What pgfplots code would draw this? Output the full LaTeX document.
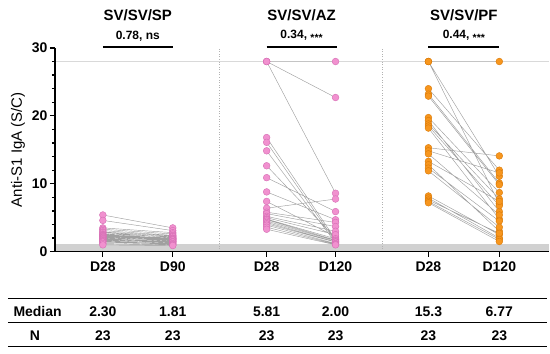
\documentclass[border=0pt]{standalone}
\usepackage{fontspec}
\setmainfont{Liberation Sans}
\usepackage{pgfplots}
\pgfplotsset{compat=1.18}
\definecolor{pinkf}{HTML}{F191CF}
\definecolor{pinke}{HTML}{D66DB4}
\definecolor{orgf}{HTML}{F7961E}
\definecolor{orge}{HTML}{DA7A08}
\definecolor{linec}{HTML}{A0A0A0}
\newcommand{\fs}[1]{\fontsize{#1}{#1}\selectfont}
\newcommand{\stars}{\raisebox{-0.4ex}{\fs{10.5}***}}
\begin{document}
\begin{tikzpicture}[x=1pt,y=1pt]
\path (0,0) rectangle (550,354);
\begin{axis}[
  at={(55pt,102pt)}, anchor=south west,
  scale only axis, width=495pt, height=204pt,
  xmin=55, xmax=550, ymin=0, ymax=30,
  axis x line*=bottom, axis y line*=left,
  axis line style={line width=1.5pt},
  axis on top,
  clip=false,
  xtick={103,173,267,336,429,500},
  xticklabels={D28,D90,D28,D120,D28,D120},
  ytick={0,10,20,30},
  minor y tick num=4,
  tick align=outside,
  major tick length=5pt, minor tick length=3pt,
  every tick/.style={black, line width=1.2pt},
  tick label style={font=\fs{14}\bfseries},
  /pgf/number format/assume math mode=true,
  xticklabel style={yshift=-2pt},
  yticklabel style={xshift=1pt},
  unbounded coords=jump,
]
\fill[black!18] (axis cs:55,0) rectangle (axis cs:550,1.1);
\draw[black!15, line width=0.8pt] (axis cs:55,28) -- (axis cs:550,28);
\draw[black!30, dotted, line width=0.6pt] (axis cs:220,0) -- (axis cs:220,30);
\draw[black!30, dotted, line width=0.6pt] (axis cs:383,0) -- (axis cs:383,30);
% connecting lines group 1
\addplot[linec, line width=0.45pt, no marks] coordinates {
(103,5.4)(173,3.5)(103,nan)
(103,4.6)(173,3.1)(103,nan)
(103,3.5)(173,2.8)(103,nan)
(103,3.3)(173,2.6)(103,nan)
(103,3.1)(173,2.4)(103,nan)
(103,2.9)(173,2.3)(103,nan)
(103,2.8)(173,2.1)(103,nan)
(103,2.6)(173,2.2)(103,nan)
(103,2.5)(173,2.0)(103,nan)
(103,2.4)(173,1.95)(103,nan)
(103,2.35)(173,1.9)(103,nan)
(103,2.3)(173,1.81)(103,nan)
(103,2.2)(173,1.75)(103,nan)
(103,2.1)(173,1.6)(103,nan)
(103,2.0)(173,1.7)(103,nan)
(103,1.9)(173,1.5)(103,nan)
(103,1.8)(173,1.45)(103,nan)
(103,1.7)(173,1.3)(103,nan)
(103,1.6)(173,1.4)(103,nan)
(103,1.5)(173,1.2)(103,nan)
(103,1.4)(173,1.1)(103,nan)
(103,1.2)(173,1.0)(103,nan)
(103,1.0)(173,0.9)
};
% group 2
\addplot[linec, line width=0.45pt, no marks] coordinates {
(267,28)(336,28)(267,nan)
(267,28)(336,22.7)(267,nan)
(267,28)(336,8.6)(267,nan)
(267,16.8)(336,1.8)(267,nan)
(267,16.1)(336,1.5)(267,nan)
(267,14.85)(336,1.3)(267,nan)
(267,12.65)(336,2.0)(267,nan)
(267,10.9)(336,5.9)(267,nan)
(267,8.8)(336,4.7)(267,nan)
(267,7.4)(336,2.2)(267,nan)
(267,6.4)(336,7.75)(267,nan)
(267,5.81)(336,4.3)(267,nan)
(267,5.6)(336,3.7)(267,nan)
(267,5.2)(336,3.0)(267,nan)
(267,5.0)(336,2.5)(267,nan)
(267,4.8)(336,1.9)(267,nan)
(267,4.7)(336,1.7)(267,nan)
(267,4.5)(336,1.6)(267,nan)
(267,4.3)(336,1.45)(267,nan)
(267,4.1)(336,1.4)(267,nan)
(267,3.9)(336,1.2)(267,nan)
(267,3.6)(336,1.1)(267,nan)
(267,3.3)(336,1.0)
};
% group 3
\addplot[linec, line width=0.45pt, no marks] coordinates {
(429,28)(500,28)(429,nan)
(429,28)(500,11.1)(429,nan)
(429,28)(500,7.06)(429,nan)
(429,24.0)(500,12.0)(429,nan)
(429,23.2)(500,10.1)(429,nan)
(429,22.9)(500,9.85)(429,nan)
(429,19.75)(500,8.7)(429,nan)
(429,19.3)(500,5.9)(429,nan)
(429,18.8)(500,7.75)(429,nan)
(429,18.5)(500,6.77)(429,nan)
(429,18.2)(500,4.8)(429,nan)
(429,15.3)(500,14.1)(429,nan)
(429,14.85)(500,11.6)(429,nan)
(429,14.4)(500,5.4)(429,nan)
(429,13.3)(500,7.4)(429,nan)
(429,12.8)(500,3.0)(429,nan)
(429,12.3)(500,4.5)(429,nan)
(429,11.9)(500,3.6)(429,nan)
(429,8.2)(500,2.5)(429,nan)
(429,7.9)(500,2.0)(429,nan)
(429,7.6)(500,2.7)(429,nan)
(429,7.4)(500,1.8)(429,nan)
(429,7.2)(500,1.5)
};
% markers
\addplot[only marks, mark=*, mark size=3.4pt, mark options={fill=pinkf, draw=pinke, line width=0.4pt}] coordinates {
(103,5.4)(103,4.6)(103,3.5)(103,3.3)(103,3.1)(103,2.9)(103,2.8)(103,2.6)(103,2.5)(103,2.4)(103,2.35)(103,2.3)(103,2.2)(103,2.1)(103,2.0)(103,1.9)(103,1.8)(103,1.7)(103,1.6)(103,1.5)(103,1.4)(103,1.2)(103,1.0)
(173,3.5)(173,3.1)(173,2.8)(173,2.6)(173,2.4)(173,2.3)(173,2.1)(173,2.2)(173,2.0)(173,1.95)(173,1.9)(173,1.81)(173,1.75)(173,1.6)(173,1.7)(173,1.5)(173,1.45)(173,1.3)(173,1.4)(173,1.2)(173,1.1)(173,1.0)(173,0.9)
(267,28)(267,28)(267,28)(267,16.8)(267,16.1)(267,14.85)(267,12.65)(267,10.9)(267,8.8)(267,7.4)(267,6.4)(267,5.81)(267,5.6)(267,5.2)(267,5.0)(267,4.8)(267,4.7)(267,4.5)(267,4.3)(267,4.1)(267,3.9)(267,3.6)(267,3.3)
(336,28)(336,22.7)(336,8.6)(336,1.8)(336,1.5)(336,1.3)(336,2.0)(336,5.9)(336,4.7)(336,2.2)(336,7.75)(336,4.3)(336,3.7)(336,3.0)(336,2.5)(336,1.9)(336,1.7)(336,1.6)(336,1.45)(336,1.4)(336,1.2)(336,1.1)(336,1.0)
};
\addplot[only marks, mark=*, mark size=3.4pt, mark options={fill=orgf, draw=orge, line width=0.4pt}] coordinates {
(429,28)(429,28)(429,28)(429,24.0)(429,23.2)(429,22.9)(429,19.75)(429,19.3)(429,18.8)(429,18.5)(429,18.2)(429,15.3)(429,14.85)(429,14.4)(429,13.3)(429,12.8)(429,12.3)(429,11.9)(429,8.2)(429,7.9)(429,7.6)(429,7.4)(429,7.2)
(500,28)(500,11.1)(500,7.06)(500,12.0)(500,10.1)(500,9.85)(500,8.7)(500,5.9)(500,7.75)(500,6.77)(500,4.8)(500,14.1)(500,11.6)(500,5.4)(500,7.4)(500,3.0)(500,4.5)(500,3.6)(500,2.5)(500,2.0)(500,2.7)(500,1.8)(500,1.5)
};
\end{axis}
% y label
\node[rotate=90, font=\fs{15}] at (18,204) {Anti-S1 IgA (S/C)};
% titles
\node[font=\fs{15}\bfseries] at (138,339) {SV/SV/SP};
\node[font=\fs{15}\bfseries] at (302,339) {SV/SV/AZ};
\node[font=\fs{15}\bfseries] at (464.5,339) {SV/SV/PF};
\node[font=\fs{12}\bfseries] at (138,318) {0.78, ns};
\node[font=\fs{12}\bfseries] at (302,318) {0.34, \stars};
\node[font=\fs{12}\bfseries] at (464.5,318) {0.44, \stars};
\draw[line width=1.3pt] (103,307) -- (173,307);
\draw[line width=1.3pt] (267,307) -- (337,307);
\draw[line width=1.3pt] (429,307) -- (500,307);
% table
\draw[line width=1.4pt] (8,55) -- (548,55);
\draw[line width=1.2pt] (8,31) -- (548,31);
\draw[line width=1.4pt] (8,7) -- (548,7);
\node[font=\fs{14}\bfseries, anchor=west] at (10,42) {Median};
\node[font=\fs{14}\bfseries] at (35,18) {N};
\foreach \x/\m in {103/2.30,173/1.81,267/5.81,336/2.00,429/15.3,500/6.77} {
  \node[font=\fs{14}\bfseries] at (\x,42) {\m};
  \node[font=\fs{14}\bfseries] at (\x,18) {23};
}
\end{tikzpicture}
\end{document}
